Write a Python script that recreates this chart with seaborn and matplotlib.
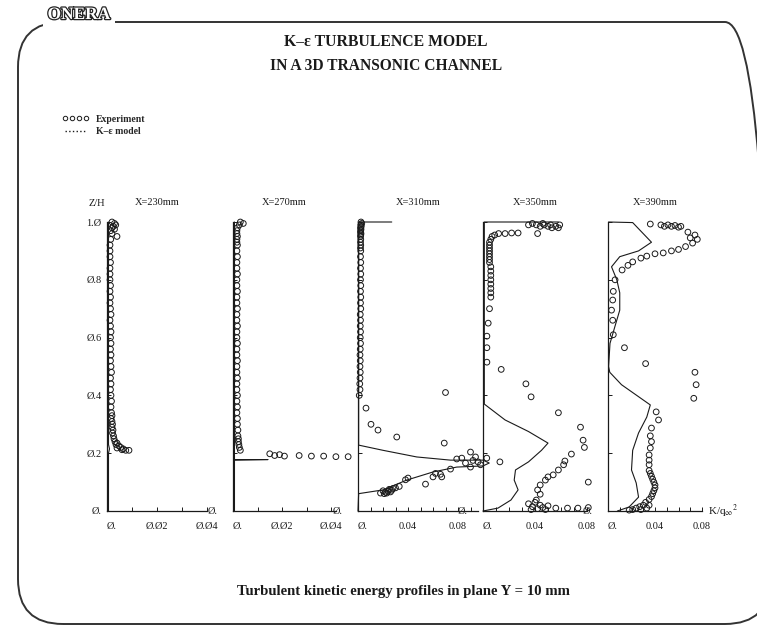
import numpy as np
import pandas as pd
import matplotlib
matplotlib.use("Agg")
import matplotlib.pyplot as plt
import seaborn as sns
from matplotlib.patches import FancyBboxPatch
from matplotlib.lines import Line2D
import matplotlib.patheffects as pe

# ---------------- data ----------------
titles = ["X=230mm", "X=270mm", "X=310mm", "X=350mm", "X=390mm"]

# Panel 1 (X=230mm)
p1_exp_z = [1.00, 0.995, 0.99, 0.985, 0.98, 0.975, 0.97, 0.96, 0.95, 0.94,
            0.92, 0.90, 0.88, 0.86, 0.84, 0.82, 0.80, 0.78, 0.76, 0.74,
            0.72, 0.70, 0.68, 0.66, 0.64, 0.62, 0.60, 0.58, 0.56, 0.54,
            0.52, 0.50, 0.48, 0.46, 0.44, 0.42, 0.40, 0.38, 0.36, 0.34,
            0.33, 0.32, 0.31, 0.30, 0.29, 0.28, 0.27, 0.26, 0.25, 0.24,
            0.235, 0.23, 0.225, 0.22, 0.215, 0.21, 0.21, 0.212, 0.218]
p1_exp_x = [0.0020, 0.0030, 0.0035, 0.0025, 0.0020, 0.0030, 0.0015, 0.0020, 0.0040, 0.0015,
            0.0012, 0.0012, 0.0012, 0.0014, 0.0012, 0.0012, 0.0012, 0.0014, 0.0012, 0.0014,
            0.0012, 0.0014, 0.0016, 0.0012, 0.0014, 0.0016, 0.0014, 0.0016, 0.0014, 0.0016,
            0.0014, 0.0016, 0.0018, 0.0014, 0.0016, 0.0014, 0.0016, 0.0018, 0.0016, 0.0018,
            0.0020, 0.0016, 0.0020, 0.0022, 0.0020, 0.0024, 0.0022, 0.0026, 0.0028, 0.0032,
            0.0040, 0.0036, 0.0048, 0.0055, 0.0065, 0.0075, 0.0088, 0.0060, 0.0040]
p1_mod_x = [0.0006, 0.0006, 0.0010, 0.0006, 0.0006]
p1_mod_z = [0.0, 0.20, 0.215, 0.23, 1.0]

# Panel 2 (X=270mm)
p2_exp_z = [1.00, 0.995, 0.99, 0.98, 0.97, 0.96, 0.95, 0.94, 0.93, 0.92,
            0.90, 0.88, 0.86, 0.84, 0.82, 0.80, 0.78, 0.76, 0.74, 0.72,
            0.70, 0.68, 0.66, 0.64, 0.62, 0.60, 0.58, 0.56, 0.54, 0.52,
            0.50, 0.48, 0.46, 0.44, 0.42, 0.40, 0.38, 0.36, 0.34, 0.32,
            0.30, 0.28, 0.26, 0.25, 0.24, 0.23, 0.22, 0.21,
            0.198, 0.192, 0.195, 0.190, 0.192, 0.190, 0.190, 0.188, 0.188]
p2_exp_x = [0.0030, 0.0042, 0.0026, 0.0018, 0.0016, 0.0016, 0.0018, 0.0016, 0.0016, 0.0018,
            0.0016, 0.0018, 0.0016, 0.0016, 0.0018, 0.0016, 0.0016, 0.0018, 0.0016, 0.0016,
            0.0018, 0.0016, 0.0016, 0.0018, 0.0016, 0.0016, 0.0018, 0.0016, 0.0016, 0.0018,
            0.0016, 0.0016, 0.0018, 0.0016, 0.0016, 0.0018, 0.0016, 0.0018, 0.0016, 0.0018,
            0.0018, 0.0020, 0.0020, 0.0022, 0.0022, 0.0024, 0.0026, 0.0030,
            0.0150, 0.0170, 0.0190, 0.0210, 0.0270, 0.0320, 0.0370, 0.0420, 0.0470]
p2_mod_x = [0.0006, 0.0006, 0.0143, 0.0006, 0.0006]
p2_mod_z = [1.0, 0.178, 0.178, 0.176, 0.0]

# Panel 3 (X=310mm)
p3_exp_z = [1.00, 0.995, 0.99, 0.985, 0.98, 0.975, 0.97, 0.965, 0.96, 0.955,
            0.95, 0.94, 0.93, 0.92, 0.91, 0.90, 0.88, 0.86, 0.84, 0.82,
            0.80, 0.78, 0.76, 0.74, 0.72, 0.70, 0.68, 0.66, 0.64, 0.62,
            0.60, 0.58, 0.56, 0.54, 0.52, 0.50, 0.48, 0.46, 0.44, 0.42,
            0.400, 0.356, 0.300, 0.280, 0.256, 0.410, 0.235, 0.180, 0.183, 0.204,
            0.187, 0.166, 0.152, 0.170, 0.183, 0.160, 0.175, 0.145, 0.118, 0.130,
            0.127, 0.118, 0.093, 0.114, 0.108, 0.070, 0.065, 0.068, 0.075, 0.072,
            0.078, 0.062, 0.060, 0.066, 0.080, 0.062, 0.085]
p3_exp_x = [0.0024, 0.0030, 0.0022, 0.0026, 0.0020, 0.0024, 0.0022, 0.0020, 0.0024, 0.0022,
            0.0020, 0.0022, 0.0020, 0.0022, 0.0020, 0.0022, 0.0020, 0.0022, 0.0020, 0.0022,
            0.0020, 0.0022, 0.0020, 0.0022, 0.0020, 0.0022, 0.0018, 0.0020, 0.0018, 0.0020,
            0.0018, 0.0020, 0.0018, 0.0016, 0.0018, 0.0016, 0.0018, 0.0016, 0.0014, 0.0016,
            0.0010, 0.0064, 0.0104, 0.0160, 0.0310, 0.0700, 0.0690, 0.0790, 0.0830, 0.0900,
            0.0940, 0.0860, 0.0900, 0.0960, 0.1030, 0.0980, 0.0920, 0.0740, 0.0670, 0.0620,
            0.0660, 0.0600, 0.0540, 0.0400, 0.0380, 0.0200, 0.0220, 0.0240, 0.0250, 0.0270,
            0.0280, 0.0230, 0.0210, 0.0260, 0.0300, 0.0180, 0.0330]
p3_mod_x = [0.0, 0.0005, 0.020, 0.039, 0.060, 0.079, 0.100, 0.105, 0.100, 0.074,
            0.047, 0.020, 0.0005, 0.0005, 0.027]
p3_mod_z = [0.0, 0.060, 0.073, 0.107, 0.135, 0.152, 0.156, 0.166, 0.176, 0.176,
            0.187, 0.210, 0.228, 1.0, 1.0]

# Panel 4 (X=350mm)
p4_exp_z = [0.990, 0.995, 0.990, 0.985, 0.990, 0.985, 0.980, 0.985, 0.980, 0.990,
            0.990, 0.995, 0.960, 0.960, 0.960, 0.962, 0.962,
            0.955, 0.950, 0.940, 0.930, 0.920, 0.910, 0.900, 0.890, 0.880, 0.870, 0.860,
            0.845, 0.830, 0.815, 0.800, 0.785, 0.770, 0.755, 0.740,
            0.700, 0.650, 0.605, 0.565, 0.515, 0.490, 0.440, 0.395, 0.340, 0.290,
            0.245, 0.220, 0.197, 0.173, 0.160, 0.142, 0.125, 0.118, 0.107, 0.090,
            0.073, 0.058, 0.038, 0.100, 0.170,
            0.025, 0.015, 0.030, 0.008, 0.020, 0.012, 0.005, 0.018, 0.005, 0.010,
            0.010, 0.010, 0.012]
p4_exp_x = [0.035, 0.038, 0.041, 0.044, 0.047, 0.050, 0.053, 0.056, 0.058, 0.059,
            0.052, 0.046, 0.042, 0.012, 0.017, 0.022, 0.027,
            0.009, 0.007, 0.006, 0.005, 0.005, 0.005, 0.005, 0.005, 0.005, 0.005, 0.005,
            0.006, 0.006, 0.006, 0.006, 0.006, 0.006, 0.006, 0.006,
            0.005, 0.004, 0.003, 0.003, 0.003, 0.014, 0.033, 0.037, 0.058, 0.075,
            0.077, 0.078, 0.068, 0.063, 0.062, 0.058, 0.054, 0.050, 0.048, 0.044,
            0.042, 0.044, 0.041, 0.081, 0.013,
            0.035, 0.038, 0.040, 0.042, 0.044, 0.046, 0.048, 0.050, 0.037, 0.056,
            0.065, 0.073, 0.081]
p4_mod_x = [0.058, 0.001, 0.001, 0.017, 0.035, 0.050, 0.045, 0.035, 0.025, 0.024,
            0.027, 0.0215, 0.0115, 0.0]
p4_mod_z = [1.0, 1.0, 0.370, 0.315, 0.275, 0.235, 0.210, 0.170, 0.142, 0.107,
            0.073, 0.038, 0.010, 0.0]

# Panel 5 (X=390mm)
p5_exp_z = [0.993, 0.990, 0.985, 0.990, 0.985, 0.988, 0.982, 0.985, 0.965, 0.955,
            0.940, 0.927, 0.945, 0.915, 0.905, 0.900, 0.893, 0.890, 0.882, 0.875,
            0.862, 0.850, 0.834, 0.800, 0.760, 0.730, 0.695, 0.660, 0.610, 0.565,
            0.510, 0.480, 0.437, 0.390, 0.343, 0.315, 0.287, 0.240, 0.218, 0.194,
            0.176, 0.140, 0.130, 0.120, 0.110, 0.100, 0.090, 0.080, 0.070, 0.060,
            0.050, 0.040, 0.030, 0.020, 0.015, 0.010, 0.005, 0.003, 0.005, 0.010,
            0.020, 0.260, 0.160]
p5_exp_x = [0.036, 0.045, 0.048, 0.051, 0.054, 0.057, 0.060, 0.062, 0.068, 0.074,
            0.076, 0.072, 0.070, 0.066, 0.060, 0.054, 0.047, 0.040, 0.033, 0.028,
            0.021, 0.017, 0.012, 0.006, 0.0045, 0.004, 0.003, 0.004, 0.0045, 0.014,
            0.032, 0.074, 0.075, 0.073, 0.041, 0.043, 0.037, 0.037, 0.036, 0.035,
            0.035, 0.035, 0.036, 0.037, 0.038, 0.039, 0.040, 0.040, 0.039, 0.038,
            0.037, 0.035, 0.032, 0.030, 0.027, 0.024, 0.021, 0.018, 0.028, 0.033,
            0.035, 0.036, 0.035]
p5_mod_x = [0.0005, 0.021, 0.037, 0.026, 0.010, 0.003, 0.0075, 0.010, 0.010, 0.006,
            0.0017, 0.0005, 0.0015, 0.0115, 0.036, 0.033, 0.026, 0.021, 0.020, 0.024,
            0.026, 0.018, 0.008]
p5_mod_z = [1.0, 0.998, 0.930, 0.900, 0.880, 0.845, 0.800, 0.755, 0.695, 0.640,
            0.580, 0.500, 0.480, 0.437, 0.367, 0.325, 0.270, 0.210, 0.142, 0.097,
            0.048, 0.014, 0.0]

xtick_labels_a = ["Ø.", "", "Ø.Ø2", "", "Ø.Ø4"]
ytick_labels_first = ["Ø.", "Ø.2", "Ø.4", "Ø.6", "Ø.8", "1.Ø"]

# ---------------- style ----------------
sns.set_theme(style="white")
plt.rcParams['font.family'] = ['Liberation Serif', 'DejaVu Serif']
plt.rcParams['mathtext.fontset'] = 'stix'
INK = "#1a1a1a"

W, H = 757, 626
fig = plt.figure(figsize=(W / 100, H / 100), dpi=100)
fig.patch.set_facecolor("white")

# background overlay for the slide frame
ov = fig.add_axes([0, 0, 1, 1], zorder=-1)
ov.set_xlim(0, W)
ov.set_ylim(0, H)
ov.axis("off")
ov.add_patch(FancyBboxPatch((18, 2), 752, 602,
                            boxstyle="round,pad=0,rounding_size=45",
                            fc="none", ec="#333333", lw=1.4, clip_on=False))

# panel geometry: (left px, xmax, px per unit)
geom = [(107, 0.04, 2500), (233, 0.042, 2450), (358, 0.096, 1250),
        (483, 0.08, 1300), (608, 0.08, 1175)]
exps = [(p1_exp_x, p1_exp_z), (p2_exp_x, p2_exp_z), (p3_exp_x, p3_exp_z),
        (p4_exp_x, p4_exp_z), (p5_exp_x, p5_exp_z)]
mods = [(p1_mod_x, p1_mod_z), (p2_mod_x, p2_mod_z), (p3_mod_x, p3_mod_z),
        (p4_mod_x, p4_mod_z), (p5_mod_x, p5_mod_z)]

y_bot_px, y_top_px = 511, 222
axes = []
for i, ((left, xmax, ppu), (ex, ez), (mx, mz)) in enumerate(zip(geom, exps, mods)):
    wpx = xmax * ppu
    ax = fig.add_axes([left / W, 1 - y_bot_px / H, wpx / W, (y_bot_px - y_top_px) / H])
    ax.patch.set_alpha(0)
    dfe = pd.DataFrame({"k": ex, "z": ez})
    dfm = pd.DataFrame({"k": mx, "z": mz})
    sns.lineplot(data=dfm, x="k", y="z", sort=False, estimator=None, ax=ax,
                 color=INK, lw=0.8, clip_on=False)
    sns.scatterplot(data=dfe, x="k", y="z", ax=ax, marker="o", s=17,
                    facecolor="none", edgecolor=INK, linewidth=0.7, clip_on=False,
                    zorder=3)
    ax.set_xlim(0, xmax)
    ax.set_ylim(0, 1.0)
    ax.set_xlabel("")
    ax.set_ylabel("")
    for s in ["top", "right"]:
        ax.spines[s].set_visible(False)
    for s in ["left", "bottom"]:
        ax.spines[s].set_color(INK)
        ax.spines[s].set_linewidth(0.9)

    nt = int(round(xmax / 0.01 - 0.49)) + 1
    xt = [j * 0.01 for j in range(nt)]
    ax.set_xticks(xt)
    if i < 2:
        labs = [xtick_labels_a[j] if j < len(xtick_labels_a) else "" for j in range(nt)]
    else:
        labs = ["Ø." if j == 0 else ("0.04" if j == 4 else ("0.08" if j == 8 else ""))
                for j in range(nt)]
    ax.set_xticklabels(labs)
    for j, t in enumerate(ax.get_xticklabels()):
        if i >= 2 and j > 0:
            t.set_fontsize(5.5)
        else:
            t.set_fontsize(7.5)
        if j == 0:
            t.set_horizontalalignment("left")
    ax.set_yticks([0, 0.2, 0.4, 0.6, 0.8, 1.0])
    if i == 0:
        ax.set_yticklabels(ytick_labels_first)
        ax.tick_params(axis="y", pad=4)
    else:
        ax.set_yticklabels(["Ø.", "", "", "", "", ""])
        ax.tick_params(axis="y", pad=11)
    ax.tick_params(axis="both", direction="in", length=3, width=0.7,
                   colors=INK, labelsize=7.5, left=True, bottom=True)
    ax.tick_params(axis="x", pad=8)
    ax.set_title(titles[i], fontsize=7.5, pad=12, color=INK)
    axes.append(ax)

axes[-1].annotate(r"K/q$_\infty$$^2$", xy=(1, 0), xycoords="axes fraction",
                  xytext=(4, 0), textcoords="offset points", va="center",
                  ha="left", fontsize=8, color=INK)

fig.text(97 / W, 1 - 203 / H, "Z/H", ha="center", va="center", fontsize=7.5, color=INK)

# header texts
fig.text(79 / W, 1 - 15 / H, "ONERA", ha="center", va="center", fontsize=12.5,
         fontweight="bold", color="white",
         path_effects=[pe.withStroke(linewidth=1.8, foreground="#222222")],
         bbox=dict(fc="white", ec="none", pad=3))
fig.text(386 / W, 1 - 42 / H, "K–ε TURBULENCE MODEL", ha="center", va="center",
         fontsize=11.3, fontweight="bold", color=INK)
fig.text(386 / W, 1 - 66 / H, "IN A 3D TRANSONIC CHANNEL", ha="center", va="center",
         fontsize=11.2, fontweight="bold", color=INK)

h_exp = Line2D([], [], ls="none", marker="o", mfc="none", mec=INK, ms=3.2, mew=0.7)
h_mod = Line2D([], [], ls=":", color=INK, lw=1.0)
fig.legend(handles=[h_exp, h_mod], labels=["Experiment", "K–ε model"],
           loc="upper left", bbox_to_anchor=(58 / W, 1 - 111 / H), frameon=False,
           numpoints=4, handlelength=2.8, handletextpad=0.7, labelspacing=0.35,
           prop={"size": 7, "weight": "bold"}, borderaxespad=0)

fig.text(403 / W, 1 - 592 / H, "Turbulent kinetic energy profiles in plane Y = 10 mm",
         ha="center", va="center", fontsize=10.6, fontweight="bold", color=INK)

fig.savefig("out.png", dpi=100)
